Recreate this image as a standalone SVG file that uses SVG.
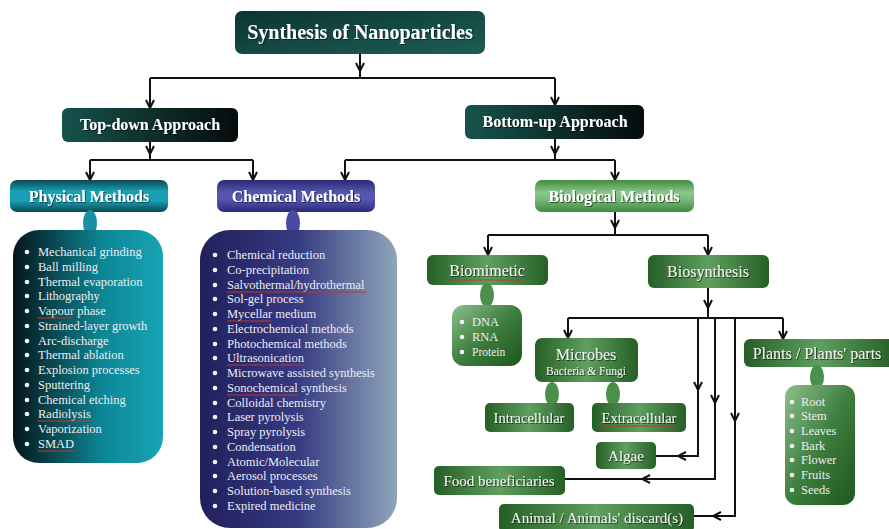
<svg xmlns="http://www.w3.org/2000/svg" width="889" height="529" viewBox="0 0 889 529">
<defs>
<linearGradient id="gTitle" x1="0" y1="0" x2="1" y2="1"><stop offset="0" stop-color="#0b3532"/><stop offset="1" stop-color="#1d5d55"/></linearGradient>
<linearGradient id="gApp" x1="0" y1="0" x2="1" y2="0"><stop offset="0" stop-color="#17534c"/><stop offset="1" stop-color="#050c0c"/></linearGradient>
<linearGradient id="gPhys" x1="0" y1="0" x2="0" y2="1"><stop offset="0" stop-color="#0b4652"/><stop offset="0.35" stop-color="#1aa0b4"/><stop offset="0.65" stop-color="#1aa0b4"/><stop offset="1" stop-color="#0b4652"/></linearGradient>
<linearGradient id="gChem" x1="0" y1="0" x2="0" y2="1"><stop offset="0" stop-color="#2a2a78"/><stop offset="0.4" stop-color="#5656b2"/><stop offset="0.6" stop-color="#5656b2"/><stop offset="1" stop-color="#2a2a78"/></linearGradient>
<linearGradient id="gBio" x1="0" y1="0" x2="0" y2="1"><stop offset="0" stop-color="#3f8a3f"/><stop offset="0.4" stop-color="#8cc88c"/><stop offset="0.6" stop-color="#7ab97a"/><stop offset="1" stop-color="#3f8a3f"/></linearGradient>
<linearGradient id="gPhysL" x1="0" y1="0" x2="1" y2="0"><stop offset="0" stop-color="#05161a"/><stop offset="0.6" stop-color="#0d8796"/><stop offset="1" stop-color="#18a4b6"/></linearGradient>
<linearGradient id="gChemL" x1="0" y1="0" x2="1" y2="0"><stop offset="0" stop-color="#221f5c"/><stop offset="0.5" stop-color="#363b82"/><stop offset="1" stop-color="#8fa6ba"/></linearGradient>
<linearGradient id="gGreen" x1="0" y1="0" x2="1" y2="0"><stop offset="0" stop-color="#265f26"/><stop offset="0.5" stop-color="#5f9f5f"/><stop offset="1" stop-color="#265f26"/></linearGradient>
<linearGradient id="gGreenL" x1="0" y1="0" x2="1" y2="1"><stop offset="0" stop-color="#8cc08c"/><stop offset="0.5" stop-color="#3e7e3e"/><stop offset="1" stop-color="#1d571d"/></linearGradient>
<filter id="sh" x="-5%" y="-20%" width="110%" height="140%"><feDropShadow dx="1" dy="1" stdDeviation="0.7" flood-color="#000" flood-opacity="0.55"/></filter>
<marker id="ah" viewBox="0 0 10 10" refX="9" refY="5" markerWidth="10" markerHeight="10" markerUnits="userSpaceOnUse" orient="auto"><path d="M1,1 L9,5 L1,9" fill="none" stroke="#111" stroke-width="2"/></marker>
</defs>
<style>
.hd{font-family:"Liberation Serif","Times New Roman",serif;font-weight:bold;fill:#fff;text-anchor:middle;filter:url(#sh)}
.gt{font-family:"Liberation Serif","Times New Roman",serif;fill:#f2f2f2;text-anchor:middle;filter:url(#sh)}
.li{font-family:"Liberation Serif","Times New Roman",serif;fill:#ececf2;font-size:12.5px}
.bl{fill:#f4f4f4}
.cn{fill:none;stroke:#111;stroke-width:2}
.sp{fill:none;stroke:#c0392b;stroke-width:1}
</style>
<rect width="889" height="529" fill="#fff"/>

<g id="connectors">
<path class="cn" d="M360,53 V78 M150,78 H555 M150,78 V108 M555,78 V105"/>
<path class="cn" d="M150,141 V160 M90,160 H253 M90,160 V180 M253,160 V180"/>
<path class="cn" d="M555,139 V160 M345,160 H615 M345,160 V180 M615,160 V180"/>
<path class="cn" d="M615,212 V235 M488,235 H708 M488,235 V255 M708,235 V255"/>
<path class="cn" d="M708,288 V318 M568,318 H783 M568,318 V338 M783,318 V339"/>
<path class="cn" d="M698,318 V456 H656 M715,318 V479 H565 M735,318 V516 H694"/>
<g class="cn" marker-end="url(#ah)">
<path d="M360,60 V71"/><path d="M150,98 V108"/><path d="M555,95 V105"/>
<path d="M150,145 V154"/><path d="M90,170 V180"/><path d="M253,170 V180"/>
<path d="M555,143 V154"/><path d="M345,170 V180"/><path d="M615,170 V180"/>
<path d="M615,216 V228"/><path d="M488,245 V255"/><path d="M708,245 V255"/>
<path d="M708,296 V308"/><path d="M568,328 V338"/><path d="M783,329 V339"/>
<path d="M698,378 V390"/><path d="M715,392 V403"/><path d="M735,410 V421"/>
<path d="M690,456 H678"/><path d="M655,479 H642"/><path d="M724,516 H713"/>
</g>
</g>

<g id="title"><rect x="235" y="11" width="250" height="43" rx="7" fill="url(#gTitle)"/><text class="hd" x="360" y="39" font-size="20">Synthesis of Nanoparticles</text></g>
<g id="topdown"><rect x="62" y="108" width="176" height="34" rx="6" fill="url(#gApp)"/><text class="hd" x="150" y="130" font-size="16">Top-down Approach</text></g>
<g id="bottomup"><rect x="465" y="105" width="179" height="34" rx="6" fill="url(#gApp)"/><text class="hd" x="555" y="127" font-size="16">Bottom-up Approach</text></g>

<g id="physical"><rect x="10" y="180" width="158" height="32" rx="7" fill="url(#gPhys)"/><text class="hd" x="89" y="202" font-size="16">Physical Methods</text></g>
<g id="chemical"><rect x="217" y="180" width="158" height="32" rx="7" fill="url(#gChem)"/><text class="hd" x="296" y="202" font-size="16">Chemical Methods</text></g>
<g id="biological"><rect x="535" y="180" width="159" height="32" rx="7" fill="url(#gBio)"/><text class="hd" x="614" y="202" font-size="16">Biological Methods</text></g>

<g id="physical-list">
<ellipse cx="90" cy="223" rx="7" ry="13" fill="#1a8ea2"/>
<rect x="13" y="230" width="150" height="233" rx="26" fill="url(#gPhysL)"/>
<g class="bl"><circle cx="27" cy="252" r="2.3"/><circle cx="27" cy="267" r="2.3"/><circle cx="27" cy="282" r="2.3"/><circle cx="27" cy="296" r="2.3"/><circle cx="27" cy="311" r="2.3"/><circle cx="27" cy="326" r="2.3"/><circle cx="27" cy="341" r="2.3"/><circle cx="27" cy="355" r="2.3"/><circle cx="27" cy="370" r="2.3"/><circle cx="27" cy="385" r="2.3"/><circle cx="27" cy="400" r="2.3"/><circle cx="27" cy="414" r="2.3"/><circle cx="27" cy="429" r="2.3"/><circle cx="27" cy="444" r="2.3"/></g>
<g class="li">
<text x="38" y="256">Mechanical grinding</text><text x="38" y="271">Ball milling</text><text x="38" y="286">Thermal evaporation</text><text x="38" y="300">Lithography</text><text x="38" y="315">Vapour phase</text><text x="38" y="330">Strained-layer growth</text><text x="38" y="345">Arc-discharge</text><text x="38" y="359">Thermal ablation</text><text x="38" y="374">Explosion processes</text><text x="38" y="389">Sputtering</text><text x="38" y="404">Chemical etching</text><text x="38" y="418">Radiolysis</text><text x="38" y="433">Vaporization</text><text x="38" y="448">SMAD</text>
</g>
<path class="sp" d="M38,318 H72 M38,421 H92 M38,451 H75"/>
</g>

<g id="chemical-list">
<ellipse cx="293" cy="223" rx="7" ry="13" fill="#4a4aa4"/>
<rect x="200" y="230" width="197" height="298" rx="30" fill="url(#gChemL)"/>
<g class="bl"><circle cx="215" cy="255" r="2.3"/><circle cx="215" cy="270" r="2.3"/><circle cx="215" cy="285" r="2.3"/><circle cx="215" cy="299" r="2.3"/><circle cx="215" cy="314" r="2.3"/><circle cx="215" cy="329" r="2.3"/><circle cx="215" cy="344" r="2.3"/><circle cx="215" cy="358" r="2.3"/><circle cx="215" cy="373" r="2.3"/><circle cx="215" cy="388" r="2.3"/><circle cx="215" cy="403" r="2.3"/><circle cx="215" cy="417" r="2.3"/><circle cx="215" cy="432" r="2.3"/><circle cx="215" cy="447" r="2.3"/><circle cx="215" cy="462" r="2.3"/><circle cx="215" cy="476" r="2.3"/><circle cx="215" cy="491" r="2.3"/><circle cx="215" cy="506" r="2.3"/></g>
<g class="li">
<text x="227" y="259">Chemical reduction</text><text x="227" y="274">Co-precipitation</text><text x="227" y="289">Salvothermal/hydrothermal</text><text x="227" y="303">Sol-gel process</text><text x="227" y="318">Mycellar medium</text><text x="227" y="333">Electrochemical methods</text><text x="227" y="348">Photochemical methods</text><text x="227" y="362">Ultrasonication</text><text x="227" y="377">Microwave assisted synthesis</text><text x="227" y="392">Sonochemical synthesis</text><text x="227" y="407">Colloidal chemistry</text><text x="227" y="421">Laser pyrolysis</text><text x="227" y="436">Spray pyrolysis</text><text x="227" y="451">Condensation</text><text x="227" y="466">Atomic/Molecular</text><text x="227" y="480">Aerosol processes</text><text x="227" y="495">Solution-based synthesis</text><text x="227" y="510">Expired medicine</text>
</g>
<path class="sp" d="M227,292 H366 M227,321 H271 M227,365 H305 M227,395 H298"/>
</g>

<g id="biomimetic"><rect x="427" y="255" width="121" height="30" rx="6" fill="url(#gGreen)"/><text class="gt" x="487" y="276" font-size="16">Biomimetic</text><path class="sp" d="M450,280 H523"/></g>
<g id="biomimetic-list">
<ellipse cx="487" cy="295" rx="7" ry="12" fill="#4a8f4a"/>
<rect x="452" y="305" width="70" height="61" rx="12" fill="url(#gGreenL)"/>
<g class="bl"><circle cx="462" cy="322" r="2.3"/><circle cx="462" cy="337" r="2.3"/><circle cx="462" cy="352" r="2.3"/></g>
<g class="li" font-size="12"><text x="472" y="326">DNA</text><text x="472" y="341">RNA</text><text x="472" y="356" font-size="11.5">Protein</text></g>
</g>
<g id="biosynthesis"><rect x="648" y="255" width="121" height="33" rx="6" fill="url(#gGreen)"/><text class="gt" x="708" y="277" font-size="16">Biosynthesis</text></g>

<g id="microbes"><rect x="535" y="338" width="103" height="44" rx="7" fill="url(#gGreen)"/><text class="gt" x="586" y="360" font-size="16">Microbes</text><text class="gt" x="586" y="375" font-size="11.5">Bacteria &amp; Fungi</text></g>
<ellipse cx="552" cy="394" rx="7" ry="12" fill="#4a8f4a"/>
<ellipse cx="613" cy="394" rx="7" ry="12" fill="#4a8f4a"/>
<g id="intracellular"><rect x="485" y="403" width="89" height="29" rx="5" fill="url(#gGreen)"/><text class="gt" x="529" y="423" font-size="14.5">Intracellular</text></g>
<g id="extracellular"><rect x="592" y="403" width="94" height="29" rx="5" fill="url(#gGreen)"/><text class="gt" x="639" y="423" font-size="14.5">Extracellular</text><path class="sp" d="M600,426 H676"/></g>
<g id="algae"><rect x="596" y="442" width="60" height="27" rx="5" fill="url(#gGreen)"/><text class="gt" x="626" y="461" font-size="15">Algae</text></g>
<g id="food"><rect x="434" y="466" width="131" height="29" rx="5" fill="url(#gGreen)"/><text class="gt" x="499" y="486" font-size="15">Food beneficiaries</text></g>
<g id="animal"><rect x="499" y="504" width="195" height="28" rx="5" fill="url(#gGreen)"/><text class="gt" x="597" y="523" font-size="15">Animal / Animals' discard(s)</text></g>

<g id="plants"><rect x="744" y="339" width="150" height="28" rx="6" fill="url(#gGreen)"/><text class="gt" x="817" y="359" font-size="16">Plants / Plants' parts</text></g>
<g id="plants-list">
<ellipse cx="817" cy="377" rx="7" ry="12" fill="#4a8f4a"/>
<rect x="785" y="385" width="70" height="120" rx="12" fill="url(#gGreenL)"/>
<g class="bl"><circle cx="792" cy="402" r="2.3"/><circle cx="792" cy="416" r="2.3"/><circle cx="792" cy="431" r="2.3"/><circle cx="792" cy="446" r="2.3"/><circle cx="792" cy="460" r="2.3"/><circle cx="792" cy="475" r="2.3"/><circle cx="792" cy="490" r="2.3"/></g>
<g class="li" font-size="12"><text x="801" y="406">Root</text><text x="801" y="420">Stem</text><text x="801" y="435">Leaves</text><text x="801" y="450">Bark</text><text x="801" y="464">Flower</text><text x="801" y="479">Fruits</text><text x="801" y="494">Seeds</text></g>
</g>
</svg>
